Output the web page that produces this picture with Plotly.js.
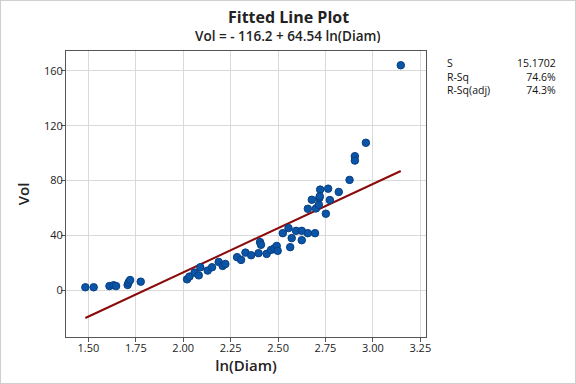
<!DOCTYPE html>
<html>
<head>
<meta charset="utf-8">
<script src="https://cdn.plot.ly/plotly-3.0.1.min.js"></script>
<style>
html,body{margin:0;padding:0;background:#fff;}
#wrap{position:relative;width:576px;height:384px;}
#frame{position:absolute;left:0;top:0;width:576px;height:384px;box-sizing:border-box;border:1px solid #cfcfcf;pointer-events:none;}
</style>
</head>
<body>
<div id="wrap"><div id="chart" style="width:576px;height:384px;"></div><div id="frame"></div></div>
<script>
const lnDiam = [1.484,1.528,1.611,1.633,1.646,1.707,1.712,1.720,1.776,
  2.020,2.033,2.060,2.082,2.090,2.129,2.152,2.187,2.208,2.222,2.284,2.305,2.328,2.358,2.397,
  2.405,2.410,2.440,2.463,2.481,2.493,2.498,2.525,2.555,2.564,2.572,2.595,2.625,2.625,2.657,
  2.657,2.678,2.695,2.700,2.715,2.718,2.722,2.720,2.752,2.764,2.773,2.820,2.877,2.905,2.905,
  2.963,3.147];
const vol = [2.0,2.0,2.9,3.5,2.9,3.7,5.6,7.3,6.1,
  7.8,9.8,12.7,10.7,16.6,14.2,16.6,20.5,17.6,19.0,24.0,22.0,27.3,25.4,26.9,
  35.0,33.0,26.4,29.3,30.5,32.2,28.6,41.5,45.2,31.3,37.9,43.2,43.2,36.4,41.5,
  59.3,65.9,41.5,59.6,62.3,67.2,73.3,68.4,55.7,74.0,65.7,71.6,80.4,97.7,94.5,
  107.5,164.1];
const b0 = -116.2, b1 = 64.54;
const statLabels = ["S","R-Sq","R-Sq(adj)"];
const statValues = ["15.1702","74.6%","74.3%"];
const xTicks = [1.50,1.75,2.00,2.25,2.50,2.75,3.00,3.25];
const yTicks = [0,40,80,120,160];

const xmin = Math.min(...lnDiam), xmax = Math.max(...lnDiam);
const fitX = [xmin, xmax];
const fitY = fitX.map(v => b0 + b1*v);

const font = "Open Sans, DejaVu Sans, sans-serif";
const traces = [
  {x: fitX, y: fitY, mode:'lines', type:'scatter', line:{color:'#8B0A0A', width:2}, hoverinfo:'skip'},
  {x: lnDiam, y: vol, mode:'markers', type:'scatter',
   marker:{size:7.5, color:'#0A55A8', line:{color:'#083F80', width:1}}}
];
const W=360, H=286;
const annotations = [
  {text:'<b>Fitted Line Plot</b>', xref:'paper', yref:'paper', x:(288-66)/W, y:(337-16.5)/H,
   xanchor:'center', yanchor:'middle', showarrow:false, borderpad:0, height:15,
   font:{family:font,size:16,color:'#222'}},
  {text:'Vol = - 116.2 + 64.54 ln(Diam)', xref:'paper', yref:'paper', x:(288-66)/W, y:(337-35.5)/H,
   xanchor:'center', yanchor:'middle', showarrow:false, borderpad:0, height:14,
   font:{family:font,size:13.5,color:'#222',weight:600}},
  {text:statLabels.join('<br>'), xref:'paper', yref:'paper', x:(446-66)/W, y:(337-55)/H,
    xanchor:'left', yanchor:'top', align:'left', showarrow:false, borderpad:0,
    font:{family:font,size:10.5,color:'#111'}},
  {text:statValues.join('<br>'), xref:'paper', yref:'paper', x:(557-66)/W, y:(337-55)/H,
    xanchor:'right', yanchor:'top', align:'right', showarrow:false, borderpad:0,
    font:{family:font,size:10.5,color:'#111'}}
];
const layout = {
  width:576, height:384,
  margin:{l:66, r:150, t:51, b:47},
  paper_bgcolor:'#fff', plot_bgcolor:'#fff',
  showlegend:false,
  font:{family:font, size:11, color:'#222'},
  xaxis:{range:[1.382,3.28], tickvals:xTicks, ticktext:xTicks.map(v=>v.toFixed(2)),
    showgrid:true, gridcolor:'#d9d9d9', gridwidth:1, zeroline:false,
    showline:true, linecolor:'#555', linewidth:1, mirror:true,
    ticks:'outside', ticklen:4, tickcolor:'#555', ticklabelstandoff:-3,
    tickfont:{family:font,size:11,color:'#222'},
    title:{text:'ln(Diam)', font:{family:font,size:15,color:'#222',weight:600}, standoff:2}},
  yaxis:{range:[-34.3,174.5], tickvals:yTicks,
    showgrid:true, gridcolor:'#d9d9d9', gridwidth:1, zeroline:false,
    showline:true, linecolor:'#555', linewidth:1, mirror:true,
    ticks:'outside', ticklen:4, tickcolor:'#555', ticklabelstandoff:-4,
    tickfont:{family:font,size:11,color:'#222'},
    title:{text:'Vol', font:{family:font,size:15,color:'#222',weight:600}, standoff:10}},
  annotations:annotations
};
Plotly.newPlot('chart', traces, layout, {displayModeBar:false, staticPlot:true});
</script>
</body>
</html>
